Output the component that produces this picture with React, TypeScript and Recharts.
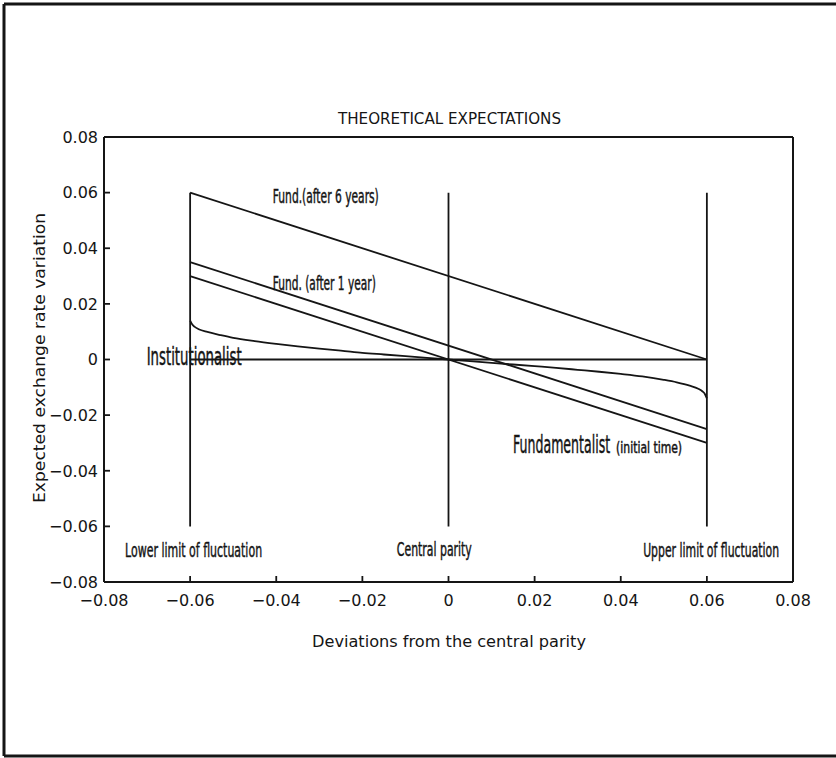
import React from 'react';
import { LineChart, Line, XAxis, YAxis, ReferenceDot } from 'recharts';

const xTicks = [-0.08, -0.06, -0.04, -0.02, 0, 0.02, 0.04, 0.06, 0.08];
const yTicks = [-0.08, -0.06, -0.04, -0.02, 0, 0.02, 0.04, 0.06, 0.08];

const fundAfter6Years = [
  { x: -0.06, y: 0.06 },
  { x: 0.06, y: 0.0 },
];
const fundAfter1Year = [
  { x: -0.06, y: 0.035 },
  { x: 0.06, y: -0.025 },
];
const fundInitialTime = [
  { x: -0.06, y: 0.03 },
  { x: 0.06, y: -0.03 },
];
const institutionalistFlat = [
  { x: -0.06, y: 0 },
  { x: 0.06, y: 0 },
];
const institutionalistCurve = [
  { x: -0.06, y: 0.014 },
  { x: -0.0595, y: 0.0126 },
  { x: -0.059, y: 0.0118 },
  { x: -0.058, y: 0.0109 },
  { x: -0.056, y: 0.0099 },
  { x: -0.053, y: 0.0088 },
  { x: -0.05, y: 0.0078 },
  { x: -0.045, y: 0.0066 },
  { x: -0.04, y: 0.0056 },
  { x: -0.035, y: 0.0047 },
  { x: -0.03, y: 0.0039 },
  { x: -0.025, y: 0.0032 },
  { x: -0.02, y: 0.0024 },
  { x: -0.015, y: 0.0018 },
  { x: -0.01, y: 0.0012 },
  { x: -0.005, y: 0.0006 },
  { x: 0, y: 0 },
  { x: 0.005, y: -0.0006 },
  { x: 0.01, y: -0.0012 },
  { x: 0.015, y: -0.0018 },
  { x: 0.02, y: -0.0024 },
  { x: 0.025, y: -0.003 },
  { x: 0.03, y: -0.0037 },
  { x: 0.035, y: -0.0044 },
  { x: 0.04, y: -0.0052 },
  { x: 0.045, y: -0.0061 },
  { x: 0.05, y: -0.0073 },
  { x: 0.053, y: -0.0082 },
  { x: 0.056, y: -0.0094 },
  { x: 0.058, y: -0.0105 },
  { x: 0.059, y: -0.0115 },
  { x: 0.0595, y: -0.0123 },
  { x: 0.06, y: -0.014 },
];
const lowerLimit = [
  { x: -0.06, y: 0.06 },
  { x: -0.06, y: -0.06 },
];
const centralParity = [
  { x: 0, y: 0.06 },
  { x: 0, y: -0.06 },
];
const upperLimit = [
  { x: 0.06, y: 0.06 },
  { x: 0.06, y: -0.06 },
];

const labelTexts = {
  fund6: 'Fund.(after 6 years)',
  fund1: 'Fund. (after 1 year)',
  inst: 'Institutionalist',
  fundamentalist: 'Fundamentalist',
  initialTime: '(initial time)',
  lower: 'Lower limit of fluctuation',
  central: 'Central parity',
  upper: 'Upper limit of fluctuation',
};

const title = 'THEORETICAL EXPECTATIONS';
const xAxisTitle = 'Deviations from the central parity';
const yAxisTitle = 'Expected exchange rate variation';

const INK = '#151515';
const TICK_FONT = '"DejaVu Sans", "Noto Sans", sans-serif';
const NARROW_FONT = '"DejaVu Sans Condensed", "Liberation Sans Narrow", "Roboto Condensed", "DejaVu Sans", sans-serif';
const SQUEEZE = 0.55;

const fmt = (v: number) => {
  if (Math.abs(v) < 1e-9) return '0';
  return (v < 0 ? '\u2212' : '') + Math.abs(v).toFixed(2);
};

const BottomTick = (props: any) => {
  const { x, y, payload } = props;
  return (
    <g>
      <line x1={x} x2={x} y1={y - 18} y2={y - 24} stroke={INK} strokeWidth={1.8} />
      <text x={x} y={y} dy="0.36em" textAnchor="middle" fontFamily={TICK_FONT} fontSize={16} fill={INK}>
        {fmt(payload.value)}
      </text>
    </g>
  );
};

const LeftTick = (props: any) => {
  const { x, y, payload } = props;
  return (
    <g>
      <line x1={x + 6} x2={x + 12} y1={y} y2={y} stroke={INK} strokeWidth={1.8} />
      <text x={x} y={y} dy="0.36em" textAnchor="end" fontFamily={TICK_FONT} fontSize={16} fill={INK}>
        {fmt(payload.value)}
      </text>
    </g>
  );
};

const TopTick = (props: any) => {
  const { x, y } = props;
  return <line x1={x} x2={x} y1={y} y2={y + 6} stroke={INK} strokeWidth={1.8} />;
};

const RightTick = (props: any) => {
  const { x, y } = props;
  return <line x1={x} x2={x - 6} y1={y} y2={y} stroke={INK} strokeWidth={1.8} />;
};

const NarrowText = ({ x, y, text, size, width }: { x: number; y: number; text: string; size: number; width: number }) => (
  <g transform={`translate(${x} ${y}) scale(${SQUEEZE} 1)`}>
    <text
      x={0}
      y={0}
      fontFamily={NARROW_FONT}
      fontSize={size}
      fill={INK}
      stroke={INK}
      strokeWidth={0.45}
      textLength={width / SQUEEZE}
      lengthAdjust="spacingAndGlyphs"
    >
      {text}
    </text>
  </g>
);

const makeTextShape = (text: string, size: number, width: number) => (p: any) => (
  <NarrowText x={p.cx} y={p.cy} text={text} size={size} width={width} />
);

const FundamentalistShape = (p: any) => (
  <g>
    <NarrowText x={p.cx} y={p.cy} text={labelTexts.fundamentalist} size={25} width={97} />
    <NarrowText x={p.cx + 103} y={p.cy} text={labelTexts.initialTime} size={15} width={66} />
  </g>
);

export default function App() {
  const lineProps = {
    type: 'linear' as const,
    dataKey: 'y',
    stroke: INK,
    strokeWidth: 1.8,
    dot: false,
    activeDot: false,
    isAnimationActive: false,
  };
  return (
    <div style={{ position: 'absolute', left: 0, top: 0, width: 836, height: 758, background: '#fff' }}>
      <LineChart width={836} height={758} margin={{ top: 136, right: 42, bottom: 175, left: 103 }}>
        <XAxis
          xAxisId={0}
          type="number"
          dataKey="x"
          domain={[-0.08, 0.08]}
          ticks={xTicks}
          height={1}
          tickSize={0}
          tickMargin={18}
          tickLine={false}
          axisLine={{ stroke: INK, strokeWidth: 2 }}
          tick={<BottomTick />}
          allowDataOverflow
        />
        <XAxis
          xAxisId="top"
          orientation="top"
          type="number"
          domain={[-0.08, 0.08]}
          ticks={xTicks}
          height={1}
          tickSize={0}
          tickMargin={0}
          tickLine={false}
          axisLine={{ stroke: INK, strokeWidth: 2 }}
          tick={<TopTick />}
        />
        <YAxis
          yAxisId={0}
          type="number"
          domain={[-0.08, 0.08]}
          ticks={yTicks}
          width={1}
          tickSize={0}
          tickMargin={6}
          tickLine={false}
          axisLine={{ stroke: INK, strokeWidth: 2 }}
          tick={<LeftTick />}
          allowDataOverflow
        />
        <YAxis
          yAxisId="right"
          orientation="right"
          type="number"
          domain={[-0.08, 0.08]}
          ticks={yTicks}
          width={1}
          tickSize={0}
          tickMargin={0}
          tickLine={false}
          axisLine={{ stroke: INK, strokeWidth: 2 }}
          tick={<RightTick />}
        />
        <Line {...lineProps} data={lowerLimit} name="lower" />
        <Line {...lineProps} data={centralParity} name="central" />
        <Line {...lineProps} data={upperLimit} name="upper" />
        <Line {...lineProps} data={institutionalistFlat} name="instFlat" />
        <Line {...lineProps} type="monotone" data={institutionalistCurve} name="inst" />
        <Line {...lineProps} data={fundInitialTime} name="fundInitial" />
        <Line {...lineProps} data={fundAfter1Year} name="fund1" />
        <Line {...lineProps} data={fundAfter6Years} name="fund6" />

        <ReferenceDot x={-0.0408} y={0.0563} r={0} shape={makeTextShape(labelTexts.fund6, 19, 106)} />
        <ReferenceDot x={-0.0408} y={0.025} r={0} shape={makeTextShape(labelTexts.fund1, 19, 103)} />
        <ReferenceDot x={-0.0701} y={-0.002} r={0} shape={makeTextShape(labelTexts.inst, 24, 95)} />
        <ReferenceDot x={0.015} y={-0.0336} r={0} shape={FundamentalistShape} />
        <ReferenceDot x={-0.0751} y={-0.071} r={0} shape={makeTextShape(labelTexts.lower, 20, 137)} />
        <ReferenceDot x={-0.012} y={-0.0707} r={0} shape={makeTextShape(labelTexts.central, 20, 75)} />
        <ReferenceDot x={0.0452} y={-0.071} r={0} shape={makeTextShape(labelTexts.upper, 19, 136)} />
      </LineChart>
      <svg width={836} height={758} style={{ position: 'absolute', left: 0, top: 0, pointerEvents: 'none' }}>
        <line x1={4} y1={4} x2={836} y2={4} stroke={INK} strokeWidth={3} />
        <line x1={4} y1={4} x2={4} y2={756} stroke={INK} strokeWidth={3} />
        <line x1={4} y1={756} x2={836} y2={756} stroke={INK} strokeWidth={3} />
        <text x={449.5} y={124} textAnchor="middle" fontFamily={TICK_FONT} fontSize={16} fill={INK} textLength={223} lengthAdjust="spacingAndGlyphs">
          {title}
        </text>
        <text x={449} y={647} textAnchor="middle" fontFamily={TICK_FONT} fontSize={16} fill={INK} textLength={274} lengthAdjust="spacingAndGlyphs">
          {xAxisTitle}
        </text>
        <text x={0} y={0} transform="translate(45 358) rotate(-90)" textAnchor="middle" fontFamily={TICK_FONT} fontSize={16} fill={INK} textLength={290} lengthAdjust="spacingAndGlyphs">
          {yAxisTitle}
        </text>
      </svg>
    </div>
  );
}
